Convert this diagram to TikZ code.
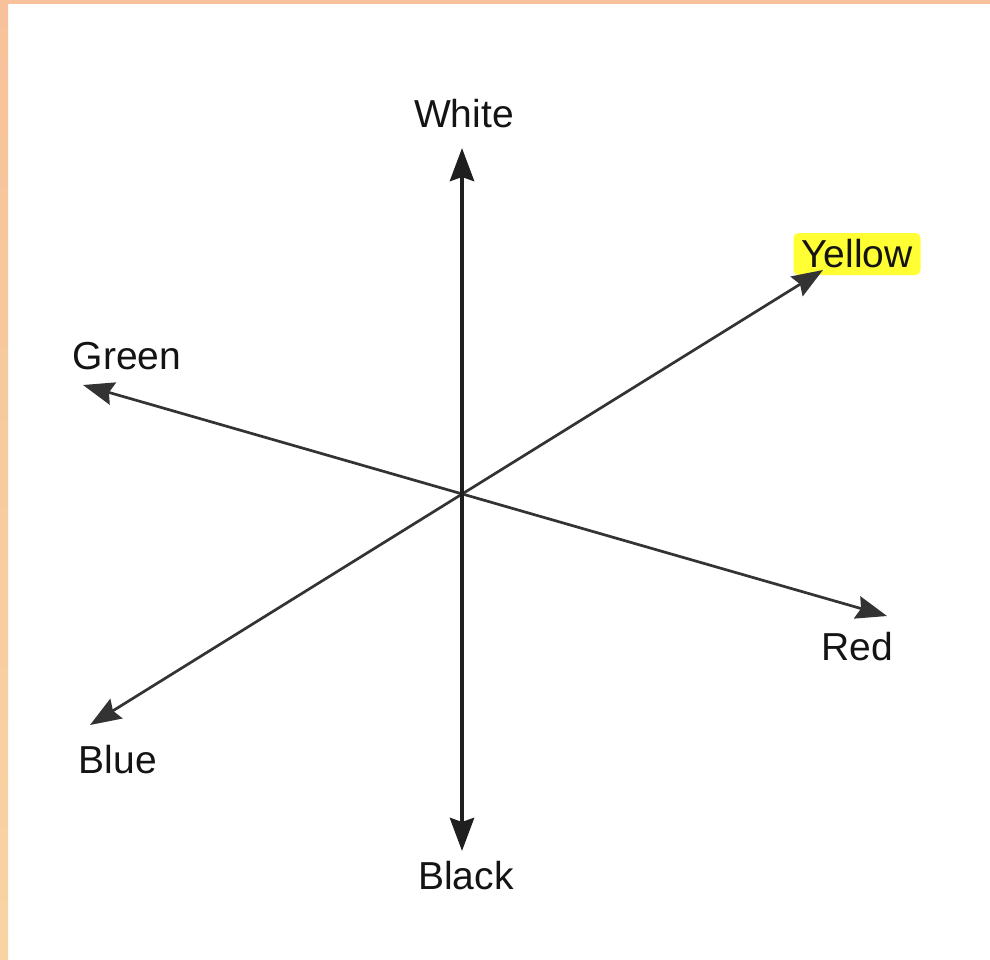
\documentclass[tikz,border=0pt]{standalone}
\usepackage{fontspec}
\setmainfont{Liberation Sans}
\usetikzlibrary{arrows.meta}
\definecolor{peach}{HTML}{F7C29B}
\definecolor{peachlight}{HTML}{F8D4A3}
\definecolor{hlyellow}{HTML}{FFFF33}
\tikzset{
  lbl/.style={font=\fontsize{39}{42}\selectfont, text=black!92, inner sep=0pt},
  axisthick/.style={line width=4.5pt, draw=black!88, {Stealth[length=33pt,width=24pt,inset=4pt]}-{Stealth[length=33pt,width=24pt,inset=4pt]}},
  axisthin/.style={line width=2.7pt, draw=black!80, {Stealth[length=31pt,width=23pt,inset=4pt]}-{Stealth[length=31pt,width=23pt,inset=4pt]}},
}
\begin{document}
\begin{tikzpicture}[x=1pt,y=-1pt]
\useasboundingbox (0,0) rectangle (990,960);
\fill[white] (0,0) rectangle (990,960);
% border bands
\shade[top color=peach, bottom color=peachlight] (0,0) rectangle (8,960);
\fill[peach] (0,0) rectangle (990,4);
% axis end points
\coordinate (C) at (462,494);
\coordinate (Wt) at (462,148);
\coordinate (Bkt) at (462,851);
\coordinate (Gt) at (83,385);
\coordinate (Rt) at (887,616);
\coordinate (Yt) at (823,270);
\coordinate (Blt) at (90,725);
% labels
\node[lbl] (white) at (464,114) {White};
\node[lbl] (black) at (466,876) {Black};
\node[lbl] (green) at (127,356) {Green};
\node[lbl] (red) at (857,647) {Red};
\node[lbl] (blue) at (118,760) {Blue};
\node[lbl, fill=hlyellow, rounded corners=5pt, minimum width=127pt, minimum height=42pt] (yellow) at (857,254) {Yellow};
% axes
\draw[axisthin] (Gt) -- (Rt);
\draw[axisthin] (Blt) -- (Yt);
\draw[axisthick] (Wt) -- (Bkt);
\end{tikzpicture}
\end{document}
